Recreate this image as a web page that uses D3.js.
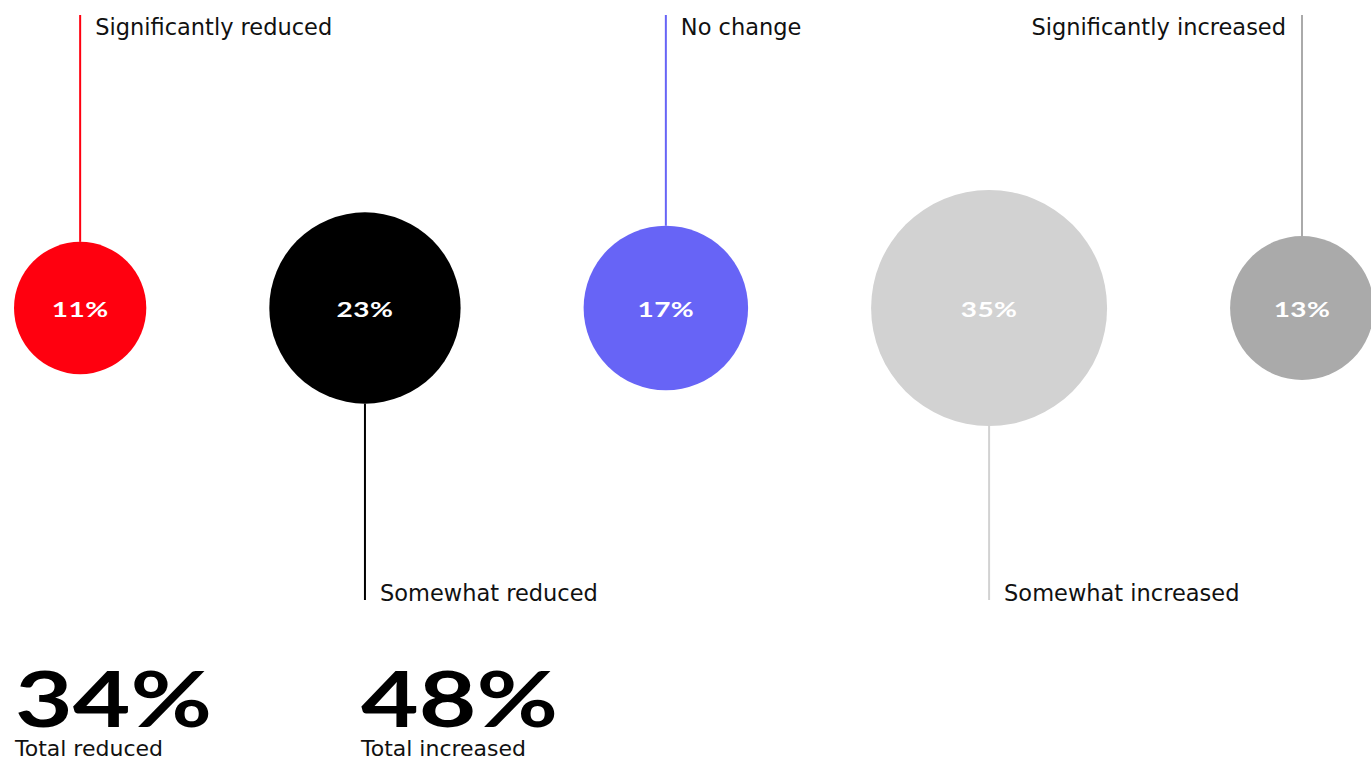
<!DOCTYPE html>
<html>
<head>
<meta charset="utf-8">
<script src="https://cdn.jsdelivr.net/npm/d3@7"></script>
<style>
  body { margin: 0; background: #fff; }
  svg { display: block; }
</style>
</head>
<body>
<svg id="chart" width="1371" height="762"></svg>
<script>
// Survey answers, share of respondents
var categories = ['Significantly reduced', 'Somewhat reduced', 'No change', 'Somewhat increased', 'Significantly increased'];
var values = [11, 23, 17, 35, 13];
var colors = ['#ff000f', '#000000', '#6764f6', '#d2d2d2', '#aaaaaa'];
// stem direction: up = stem goes to top label, down = to bottom label
var stems = ['up', 'down', 'up', 'down', 'up'];

var totalLabels = ['Total reduced', 'Total increased'];
var totalValues = [34, 48];

var width = 1371, height = 762;
var svg = d3.select('#chart');

// bubble radius grows with sqrt of value
var r = d3.scaleSqrt()
  .domain([0, 35])
  .range([0, 118]);

// bubbles sit side by side with a constant gap between edges
var gap = 123;
var centers = [];
var edge = 14;
values.forEach(function(v) {
  centers.push(edge + r(v));
  edge += 2 * r(v) + gap;
});

var cy = 308;
var stemTop = 15, stemBottom = 600;

var data = categories.map(function(c, i) {
  return { cat: c, value: values[i], color: colors[i], stem: stems[i], cx: centers[i] };
});

var g = svg.selectAll('g.bubble')
  .data(data)
  .enter()
  .append('g')
  .attr('class', 'bubble');

// stems
g.append('line')
  .attr('x1', function(d) { return d.cx; })
  .attr('x2', function(d) { return d.cx; })
  .attr('y1', function(d) { return d.stem === 'up' ? stemTop : cy + r(d.value); })
  .attr('y2', function(d) { return d.stem === 'up' ? cy - r(d.value) : stemBottom; })
  .style('stroke', function(d) { return d.color; })
  .style('stroke-width', 2);

g.append('circle')
  .attr('cx', function(d) { return d.cx; })
  .attr('cy', cy)
  .attr('r', function(d) { return r(d.value); })
  .style('fill', function(d) { return d.color; });

// percentage inside the bubble, stretched to look like an extended face
g.append('text')
  .attr('transform', function(d) { return 'translate(' + d.cx + ',' + (cy + 9) + ') scale(1.4,1)'; })
  .attr('text-anchor', 'middle')
  .style('font-family', 'Lato, sans-serif')
  .style('font-weight', 700)
  .style('font-size', '20px')
  .style('letter-spacing', '0.3px')
  .style('fill', '#fff')
  .text(function(d) { return d.value + '%'; });

// category labels
g.append('text')
  .attr('x', function(d, i) {
    if (i === data.length - 1) return d.cx - 16;
    return d.cx + 15;
  })
  .attr('y', function(d) { return d.stem === 'up' ? 35 : 601; })
  .attr('text-anchor', function(d, i) { return i === data.length - 1 ? 'end' : 'start'; })
  .style('font-family', '"DejaVu Sans", sans-serif')
  .style('font-size', '22.5px')
  .style('fill', '#111')
  .text(function(d) { return d.cat; });

// totals
var totalX = d3.scaleOrdinal()
  .domain(totalLabels)
  .range([15, 361]);

var t = svg.selectAll('g.total')
  .data(totalLabels)
  .enter()
  .append('g')
  .attr('class', 'total');

t.append('text')
  .attr('transform', function(d) { return 'translate(' + totalX(d) + ',727) scale(1.31,1)'; })
  .style('font-family', 'Lato, sans-serif')
  .style('font-weight', 700)
  .style('font-size', '76px')
  .style('fill', '#000')
  .text(function(d, i) { return totalValues[i] + '%'; });

t.append('text')
  .attr('x', function(d) { return totalX(d); })
  .attr('y', 756)
  .style('font-family', '"DejaVu Sans", sans-serif')
  .style('font-size', '22px')
  .style('fill', '#111')
  .text(function(d) { return d; });
</script>
</body>
</html>
